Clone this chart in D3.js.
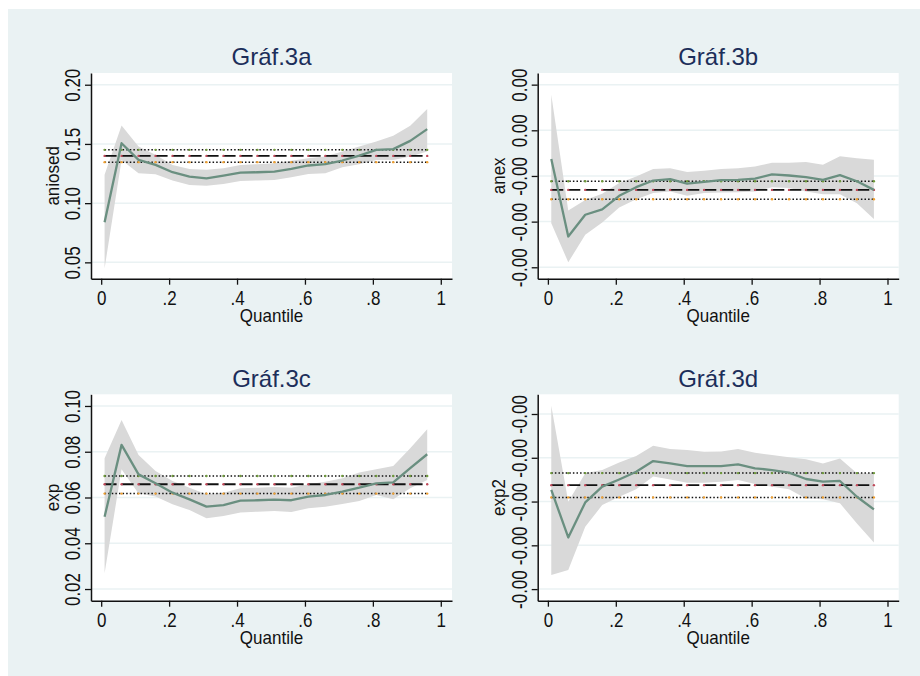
<!DOCTYPE html>
<html>
<head>
<meta charset="utf-8">
<script src="https://cdn.jsdelivr.net/npm/d3@7"></script>
<style>
  body { margin: 0; background: #fff; }
  svg { display: block; font-family: "Liberation Sans", Arial, sans-serif; }
</style>
</head>
<body>
<script>
// quantiles at which the regressions were run
var quantiles = [0.01,0.06,0.11,0.16,0.21,0.26,0.31,0.36,0.41,0.46,0.51,0.56,0.61,0.66,0.71,0.76,0.81,0.86,0.91,0.96];

// aniosed
var aniosedCoef = [0.0838,0.1506,0.1365,0.1323,0.1261,0.1224,0.1210,0.1233,0.1258,0.1261,0.1267,0.1289,0.1318,0.1329,0.1360,0.1402,0.1450,0.1456,0.1526,0.1625];
var aniosedHi   = [0.1239,0.1656,0.1478,0.1408,0.1323,0.1289,0.1281,0.1295,0.1323,0.1329,0.1337,0.1357,0.1380,0.1394,0.1436,0.1478,0.1521,0.1569,0.1653,0.1794];
var aniosedLo   = [0.0449,0.1365,0.1253,0.1244,0.1191,0.1154,0.1146,0.1162,0.1188,0.1191,0.1196,0.1219,0.1247,0.1253,0.1303,0.1329,0.1365,0.1365,0.1394,0.1436];
var aniosedOls  = [0.1346, 0.1399, 0.1450];   // lower, estimate, upper

// anex
var anexCoef = [-0.000026,-0.000365,-0.000270,-0.000246,-0.000187,-0.000149,-0.000120,-0.000114,-0.000134,-0.000126,-0.000118,-0.000117,-0.000112,-0.000093,-0.000098,-0.000105,-0.000117,-0.000096,-0.000123,-0.000161];
var anexHi   = [0.000256,-0.000251,-0.000205,-0.000178,-0.000131,-0.000102,-0.000070,-0.000066,-0.000083,-0.000077,-0.000069,-0.000066,-0.000058,-0.000042,-0.000042,-0.000039,-0.000051,-0.000014,-0.000022,-0.000029];
var anexLo   = [-0.000307,-0.000478,-0.000358,-0.000304,-0.000238,-0.000202,-0.000175,-0.000168,-0.000187,-0.000175,-0.000172,-0.000171,-0.000168,-0.000149,-0.000153,-0.000168,-0.000180,-0.000180,-0.000219,-0.000288];
var anexOls  = [-0.000202, -0.000161, -0.000123];

// exp
var expCoef = [0.0516,0.0830,0.0701,0.0662,0.0621,0.0592,0.0560,0.0567,0.0586,0.0588,0.0591,0.0588,0.0604,0.0611,0.0626,0.0643,0.0662,0.0666,0.0728,0.0789];
var expHi   = [0.0771,0.0939,0.0786,0.0716,0.0672,0.0643,0.0614,0.0621,0.0640,0.0643,0.0646,0.0643,0.0658,0.0669,0.0684,0.0709,0.0723,0.0738,0.0815,0.0898];
var expLo   = [0.0269,0.0723,0.0618,0.0604,0.0570,0.0545,0.0509,0.0519,0.0534,0.0538,0.0541,0.0537,0.0553,0.0560,0.0572,0.0585,0.0611,0.0592,0.0640,0.0677];
var expOls  = [0.0617, 0.0658, 0.0694];

// exp2
var exp2Coef = [-0.000747,-0.000964,-0.000804,-0.000732,-0.000699,-0.000664,-0.000615,-0.000626,-0.000638,-0.000638,-0.000638,-0.000630,-0.000648,-0.000656,-0.000668,-0.000697,-0.000709,-0.000706,-0.000778,-0.000836];
var exp2Hi   = [-0.000362,-0.000801,-0.000671,-0.000656,-0.000622,-0.000592,-0.000545,-0.000560,-0.000565,-0.000572,-0.000571,-0.000560,-0.000577,-0.000587,-0.000598,-0.000607,-0.000626,-0.000603,-0.000671,-0.000671];
var exp2Lo   = [-0.001136,-0.001113,-0.000915,-0.000816,-0.000778,-0.000744,-0.000686,-0.000699,-0.000714,-0.000714,-0.000709,-0.000702,-0.000720,-0.000732,-0.000744,-0.000786,-0.000790,-0.000808,-0.000900,-0.000987];
var exp2Ols  = [-0.000781, -0.000725, -0.000670];

// axis ticks
var xTickVals = [0, 0.2, 0.4, 0.6, 0.8, 1];
var xTickLabels = ["0", ".2", ".4", ".6", ".8", "1"];
var xDomain = [-0.03, 1.033];

var aniosedTicks = [0.05, 0.10, 0.15, 0.20];
var aniosedTickLabels = ["0.05", "0.10", "0.15", "0.20"];
var aniosedDomain = [0.0362, 0.2099];

var anexTicks = [-0.0005, -0.0003, -0.0001, 0.0001, 0.0003];
var anexTickLabels = ["-0.00", "-0.00", "-0.00", "0.00", "0.00"];
var anexDomain = [-0.00055, 0.000351];

var expTicks = [0.02, 0.04, 0.06, 0.08, 0.10];
var expTickLabels = ["0.02", "0.04", "0.06", "0.08", "0.10"];
var expDomain = [0.0149, 0.1051];

var exp2Ticks = [-0.0012, -0.0010, -0.0008, -0.0006, -0.0004];
var exp2TickLabels = ["-0.00", "-0.00", "-0.00", "-0.00", "-0.00"];
var exp2Domain = [-0.001253, -0.00031];

var titles = ["Gráf.3a", "Gráf.3b", "Gráf.3c", "Gráf.3d"];
var yNames = ["aniosed", "anex", "exp", "exp2"];

// panel layout (plot regions in pixels)
var panels = [
  { title: titles[0], yName: yNames[0], coef: aniosedCoef, hi: aniosedHi, lo: aniosedLo, ols: aniosedOls,
    ticks: aniosedTicks, tickLabels: aniosedTickLabels, domain: aniosedDomain, x0: 91, x1: 452, y0: 73, y1: 278.7 },
  { title: titles[1], yName: yNames[1], coef: anexCoef, hi: anexHi, lo: anexLo, ols: anexOls,
    ticks: anexTicks, tickLabels: anexTickLabels, domain: anexDomain, x0: 537.7, x1: 898.7, y0: 73, y1: 278.7 },
  { title: titles[2], yName: yNames[2], coef: expCoef, hi: expHi, lo: expLo, ols: expOls,
    ticks: expTicks, tickLabels: expTickLabels, domain: expDomain, x0: 91, x1: 452, y0: 394.3, y1: 600.7 },
  { title: titles[3], yName: yNames[3], coef: exp2Coef, hi: exp2Hi, lo: exp2Lo, ols: exp2Ols,
    ticks: exp2Ticks, tickLabels: exp2TickLabels, domain: exp2Domain, x0: 537.7, x1: 898.7, y0: 394.3, y1: 600.7 }
];

var bg = "#eaf2f3";
var lineColor = "#6a8f80";
var bandColor = "#d9d9d9";
var olsMarkColors = ["#f0a030", "#c04a5a", "#6f9a3a"];   // lower, estimate, upper

var svg = d3.select("body").append("svg").attr("width", 920).attr("height", 676);

svg.append("rect").attr("x", 8).attr("y", 9).attr("width", 912).attr("height", 667).attr("fill", bg);

panels.forEach(function(p) {
  var x = d3.scaleLinear().domain(xDomain).range([p.x0, p.x1]);
  var y = d3.scaleLinear().domain(p.domain).range([p.y1, p.y0]);
  var g = svg.append("g");

  // plot region
  g.append("rect").attr("x", p.x0).attr("y", p.y0).attr("width", p.x1 - p.x0).attr("height", p.y1 - p.y0)
    .attr("fill", "#fff");

  // grid lines
  g.selectAll(".grid").data(p.ticks).enter().append("line")
    .attr("x1", p.x0).attr("x2", p.x1)
    .attr("y1", function(d) { return y(d); }).attr("y2", function(d) { return y(d); })
    .attr("stroke", bg).attr("stroke-width", 1.5);

  // confidence band
  var rows = quantiles.map(function(q, i) { return { q: q, c: p.coef[i], lo: p.lo[i], hi: p.hi[i] }; });
  var area = d3.area().x(function(d) { return x(d.q); }).y0(function(d) { return y(d.lo); }).y1(function(d) { return y(d.hi); });
  g.append("path").datum(rows).attr("d", area).attr("fill", bandColor);

  // OLS estimate and its bounds
  p.ols.forEach(function(v, k) {
    var pts = quantiles.map(function(q) { return { q: q, v: v }; });
    var ln = d3.line().x(function(d) { return x(d.q); }).y(function(d) { return y(d.v); });
    g.append("path").datum(pts).attr("d", ln).attr("fill", "none")
      .attr("stroke", "#111")
      .attr("stroke-width", k === 1 ? 1.8 : 1.5)
      .attr("stroke-dasharray", k === 1 ? "12,5" : "1.5,2.1");
    g.selectAll(".m" + k).data(pts).enter().append("circle")
      .attr("cx", function(d) { return x(d.q); }).attr("cy", function(d) { return y(d.v); })
      .attr("r", 1.2).attr("fill", olsMarkColors[k]);
  });

  // quantile coefficients
  var line = d3.line().x(function(d) { return x(d.q); }).y(function(d) { return y(d.c); });
  g.append("path").datum(rows).attr("d", line).attr("fill", "none")
    .attr("stroke", lineColor).attr("stroke-width", 2.3).attr("stroke-linejoin", "round");

  // axes
  var yAxis = d3.axisLeft(y).tickValues(p.ticks)
    .tickFormat(function(d, i) { return p.tickLabels[i]; })
    .tickSize(6).tickSizeOuter(0);
  var ya = g.append("g").attr("transform", "translate(" + p.x0 + ",0)").call(yAxis);
  ya.selectAll("text").attr("x", null).attr("dy", null)
    .attr("transform", "translate(-11,0) rotate(-90) scale(1,1.35)")
    .attr("text-anchor", "middle");

  var xAxis = d3.axisBottom(x).tickValues(xTickVals)
    .tickFormat(function(d, i) { return xTickLabels[i]; })
    .tickSize(6).tickSizeOuter(0);
  var xa = g.append("g").attr("transform", "translate(0," + p.y1 + ")").call(xAxis);
  xa.selectAll("text").attr("dy", null).attr("y", null)
    .attr("transform", "translate(0,26.5) scale(1,1.2)");

  [ya, xa].forEach(function(a) {
    a.attr("font-family", null).attr("font-size", 17);
    a.selectAll("text").attr("fill", "#111");
    a.select(".domain").attr("stroke", "#111").attr("stroke-width", 1.5);
    a.selectAll(".tick line").attr("stroke", "#111").attr("stroke-width", 1.3);
  });

  // titles
  var cx = (p.x0 + p.x1) / 2, cy = (p.y0 + p.y1) / 2;
  g.append("text").attr("x", cx).attr("y", p.y0 - 7.6).attr("text-anchor", "middle")
    .attr("font-size", 24).attr("fill", "#1c2e5a").text(p.title);
  g.append("text").attr("transform", "translate(" + cx + "," + (p.y1 + 43) + ") scale(1,1.1)")
    .attr("text-anchor", "middle").attr("font-size", 17).attr("fill", "#111").text("Quantile");
  g.append("text").attr("transform", "translate(" + (p.x0 - 32.5) + "," + cy + ") rotate(-90) scale(1,1.1)")
    .attr("text-anchor", "middle").attr("font-size", 17).attr("fill", "#111").text(p.yName);
});
</script>
</body>
</html>
